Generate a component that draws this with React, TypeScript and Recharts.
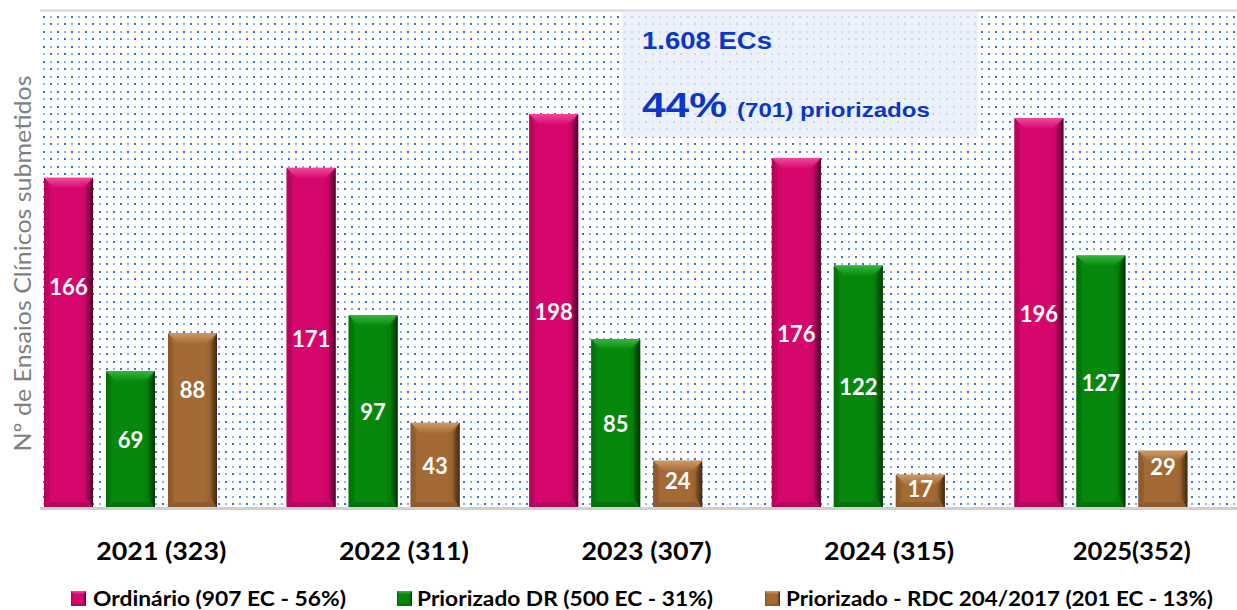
import React from "react";
import {
  BarChart,
  Bar,
  XAxis,
  YAxis,
  CartesianGrid,
  LabelList,
} from "recharts";

const years = ["2021 (323)", "2022 (311)", "2023 (307)", "2024 (315)", "2025(352)"];
const ordinario = [166, 171, 198, 176, 196];
const priorizadoDR = [69, 97, 85, 122, 127];
const priorizadoRDC = [88, 43, 24, 17, 29];
const yTicks = [0, 50, 100, 150, 200, 250];
const legendLabels = [
  "Ordinário (907 EC - 56%)",
  "Priorizado DR (500 EC - 31%)",
  "Priorizado - RDC 204/2017 (201 EC - 13%)",
];

const data = years.map((year, i) => ({
  year,
  ord: ordinario[i],
  dr: priorizadoDR[i],
  rdc: priorizadoRDC[i],
  pad: 0, // empty slot, pushes the three bars left in each band like the original
}));

const tones = {
  ord: { base: "#d5066c", light: "#ef4a9b", side: "#b0055a", dark: "#4c0428" },
  dr: { base: "#05880c", light: "#35b53c", side: "#046f0a", dark: "#013605" },
  rdc: { base: "#a36a35", light: "#cc9a66", side: "#8a592b", dark: "#3f270f" },
};
type ToneKey = keyof typeof tones;

// some labels were dragged up by hand in the original (px above bar centre)
const labelLift: Record<ToneKey, number[]> = {
  ord: [57, 0, 0, 0, 0],
  dr: [0, 0, 0, 0, 0],
  rdc: [31, 0, 4, 3, 13],
};

function BevelBar(props: any) {
  const { x, y, width: w, height: h, tone } = props;
  if (!h || h <= 0) return null;
  const t = tones[tone as ToneKey];
  const b = Math.min(11, h / 3, w / 4);
  return (
    <g>
      <rect x={x} y={y} width={w} height={h} fill={`url(#body-${tone})`} />
      <polygon
        points={`${x},${y} ${x + w},${y} ${x + w - b},${y + b} ${x + b},${y + b}`}
        fill={`url(#top-${tone})`}
      />
      <polygon
        points={`${x + w},${y} ${x + w},${y + h} ${x + w - b * 0.6},${y + h - b} ${x + w - b * 0.6},${y + b}`}
        fill={`url(#edge-${tone})`}
      />
      <polygon
        points={`${x},${y + h} ${x + w},${y + h} ${x + w - b * 0.6},${y + h - b * 0.6} ${x + b * 0.6},${y + h - b * 0.6}`}
        fill={t.side}
        opacity={0.8}
      />
      <polygon
        points={`${x},${y} ${x + b * 0.5},${y + b} ${x + b * 0.5},${y + h - b * 0.6} ${x},${y + h}`}
        fill={t.side}
        opacity={0.6}
      />
    </g>
  );
}

function YearTick(props: any) {
  const { x, y, payload } = props;
  return (
    <text
      x={x}
      y={y + 51}
      textAnchor="middle"
      fontFamily="Lato"
      fontWeight={700}
      fontSize={25}
      textLength={payload.value.length > 9 ? 130 : 118}
      lengthAdjust="spacingAndGlyphs"
      fill="#000"
    >
      {payload.value}
    </text>
  );
}

function YLabel(props: any) {
  const { viewBox } = props;
  const cx = 22;
  const cy = viewBox.y + viewBox.height / 2 + 4;
  return (
    <text
      x={cx}
      y={cy}
      transform={`rotate(-90 ${cx} ${cy})`}
      textAnchor="middle"
      dominantBaseline="central"
      fontFamily="Lato"
      fontSize={23}
      fill="#7f7f7f"
      textLength={376}
      lengthAdjust="spacingAndGlyphs"
    >
      Nº de Ensaios Clínicos submetidos
    </text>
  );
}

const makeValueLabel = (k: ToneKey) => (props: any) => {
  const { x, y, width, height, value, index } = props;
  return (
    <text
      x={x + width / 2}
      y={y + height / 2 - labelLift[k][index]}
      textAnchor="middle"
      dominantBaseline="central"
      fontFamily="Lato"
      fontWeight={700}
      fontSize={22}
      fill="#fff"
    >
      {value}
    </text>
  );
};

const toneKeys: ToneKey[] = ["ord", "dr", "rdc"];
const legendX = [71, 397, 765];
const legendTextX = [93, 417, 786];
const legendTextW = [253, 296, 427];

export default function App() {
  return (
    <div
      style={{
        position: "absolute",
        left: 0,
        top: 0,
        width: 1237,
        height: 610,
        overflow: "hidden",
        background: "#fff",
      }}
    >
      <BarChart
        width={1253}
        height={610}
        data={data}
        margin={{ top: 10.5, right: 0, bottom: 71.5, left: 0 }}
        barSize={49}
        barGap={13}
      >
        <defs>
          <pattern id="dots" width="14" height="15" patternUnits="userSpaceOnUse">
            <rect x="1" y="1" width="2" height="2" fill="#2a74d8" />
            <rect x="8" y="1" width="2" height="2" fill="#8db4ea" />
            <rect x="1" y="8" width="2" height="2" fill="#8db4ea" />
            <rect x="8" y="8" width="2" height="2" fill="#2a74d8" />
          </pattern>
          {toneKeys.map((k) => (
            <React.Fragment key={k}>
              <linearGradient id={`body-${k}`} x1="0" y1="0" x2="1" y2="0">
                <stop offset="0%" stopColor={tones[k].side} />
                <stop offset="10%" stopColor={tones[k].base} />
                <stop offset="75%" stopColor={tones[k].base} />
                <stop offset="100%" stopColor={tones[k].side} />
              </linearGradient>
              <linearGradient id={`edge-${k}`} x1="0" y1="0" x2="1" y2="0">
                <stop offset="0%" stopColor={tones[k].side} />
                <stop offset="100%" stopColor={tones[k].dark} />
              </linearGradient>
              <linearGradient id={`top-${k}`} x1="0" y1="0" x2="0" y2="1">
                <stop offset="0%" stopColor={tones[k].light} />
                <stop offset="100%" stopColor={tones[k].base} />
              </linearGradient>
            </React.Fragment>
          ))}
        </defs>
        <CartesianGrid
          vertical={false}
          stroke="#d6d6d6"
          strokeWidth={2}
          fill="url(#dots)"
        />
        <XAxis
          dataKey="year"
          height={30}
          tickLine={false}
          tickSize={0}
          tickMargin={0}
          axisLine={{ stroke: "#d0d0d0", strokeWidth: 3 }}
          tick={<YearTick />}
          interval={0}
        />
        <YAxis
          width={40}
          domain={[0, 250]}
          ticks={yTicks}
          tick={false}
          tickLine={false}
          axisLine={false}
          label={<YLabel />}
        />
        {toneKeys.map((k) => (
          <Bar
            key={k}
            dataKey={k}
            fill={tones[k].base}
            isAnimationActive={false}
            shape={(p: any) => <BevelBar {...p} tone={k} />}
          >
            <LabelList dataKey={k} content={makeValueLabel(k)} />
          </Bar>
        ))}
        <Bar dataKey="pad" fill="none" isAnimationActive={false} />
      </BarChart>

      <svg
        width={1237}
        height={610}
        style={{ position: "absolute", left: 0, top: 0, pointerEvents: "none" }}
      >
        <rect x={622} y={12} width={356} height={125} fill="#e6edf8" fillOpacity={0.82} />
        <g fontFamily="Liberation Sans" fontWeight={700} fill="#0b37c8">
          <text x={642} y={49} fontSize={23} textLength={130} lengthAdjust="spacingAndGlyphs">
            1.608 ECs
          </text>
          <text x={642} y={117} fontSize={35} textLength={85} lengthAdjust="spacingAndGlyphs">
            44%
          </text>
          <text x={737} y={117} fontSize={21} textLength={193} lengthAdjust="spacingAndGlyphs">
            (701) priorizados
          </text>
        </g>
        {toneKeys.map((k, i) => (
          <g key={k}>
            <BevelBar x={legendX[i]} y={591} width={15} height={15} tone={k} />
            <text
              x={legendTextX[i]}
              y={606}
              fontFamily="Lato"
              fontWeight={700}
              fontSize={20}
              fill="#000"
              textLength={legendTextW[i]}
              lengthAdjust="spacingAndGlyphs"
            >
              {legendLabels[i]}
            </text>
          </g>
        ))}
      </svg>
    </div>
  );
}
